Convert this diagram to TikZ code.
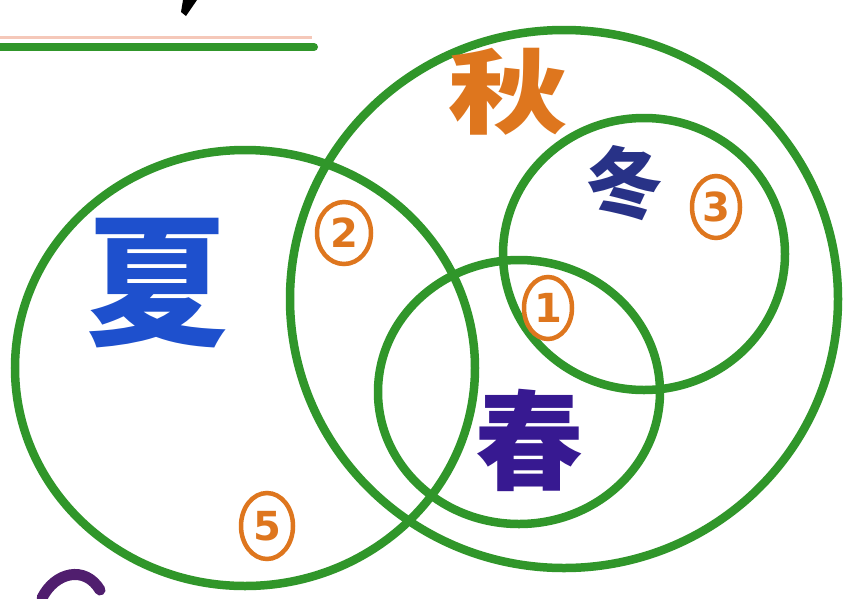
\documentclass[tikz,border=0pt]{standalone}
\usepackage{fontspec}
\newfontfamily\cjk{Noto Sans CJK SC}
\setmainfont{DejaVu Sans}
\usetikzlibrary{shapes.geometric}
\definecolor{ringgreen}{RGB}{48,150,42}
\definecolor{markorange}{RGB}{222,118,30}
\definecolor{summerblue}{RGB}{30,80,205}
\definecolor{springindigo}{RGB}{55,25,145}
\definecolor{winterblue}{RGB}{40,50,135}
\definecolor{shadowpink}{RGB}{245,200,185}
\definecolor{markpurple}{RGB}{80,30,110}
\tikzset{
  ring/.style={draw=ringgreen, line width=8.5pt, ellipse, inner sep=0pt},
  numring/.style={draw=markorange, line width=4.5pt, ellipse, inner sep=0pt, text=markorange, font=\fontsize{40}{40}\selectfont\bfseries},
  season/.style={inner sep=0pt, font=\cjk\bfseries}
}
\begin{document}
\begin{tikzpicture}[x=1pt,y=-1pt]
\useasboundingbox[fill=white] (0,0) rectangle (857,598);
% rings
\node[ring, minimum width=548pt, minimum height=538pt] (autumn) at (564,299) {};
\node[ring, minimum width=460pt, minimum height=436pt] (summer) at (245,368) {};
\node[ring, minimum width=282pt, minimum height=272pt] (winter) at (644,254) {};
\node[ring, minimum width=282pt, minimum height=264pt] (spring) at (519,392) {};
% top rule
\draw[shadowpink, line width=3pt] (0,37) -- (312,37);
\draw[ringgreen, line width=8pt, line cap=round] (0,47) -- (314,47);
% top black stroke
\fill[black] (183,0) -- (197,0) -- (186,16) -- (181,12) -- cycle;
% bottom purple stroke
\draw[markpurple, line width=11pt, line cap=round] (42,598) .. controls (55,572) and (85,565) .. (100,590);
% season characters
\node[season, text=markorange, font=\cjk\bfseries\fontsize{92}{92}\selectfont, xscale=1.3] (autumnlabel) at (508,92) {秋};
\node[season, text=winterblue, font=\cjk\bfseries\fontsize{78}{78}\selectfont] (winterlabel) at (624,183) {冬};
\node[season, text=summerblue, font=\cjk\bfseries\fontsize{142}{142}\selectfont] (summerlabel) at (157,283) {夏};
\node[season, text=springindigo, font=\cjk\bfseries\fontsize{108}{108}\selectfont] (springlabel) at (529,440) {春};
% numbers
\node[numring, minimum width=48pt, minimum height=62pt] (n1) at (548,308) {1};
\node[numring, minimum width=54pt, minimum height=62pt] (n2) at (344,233) {2};
\node[numring, minimum width=48pt, minimum height=62pt] (n3) at (716,207) {3};
\node[numring, minimum width=52pt, minimum height=66pt] (n5) at (267,526) {5};
\end{tikzpicture}
\end{document}
